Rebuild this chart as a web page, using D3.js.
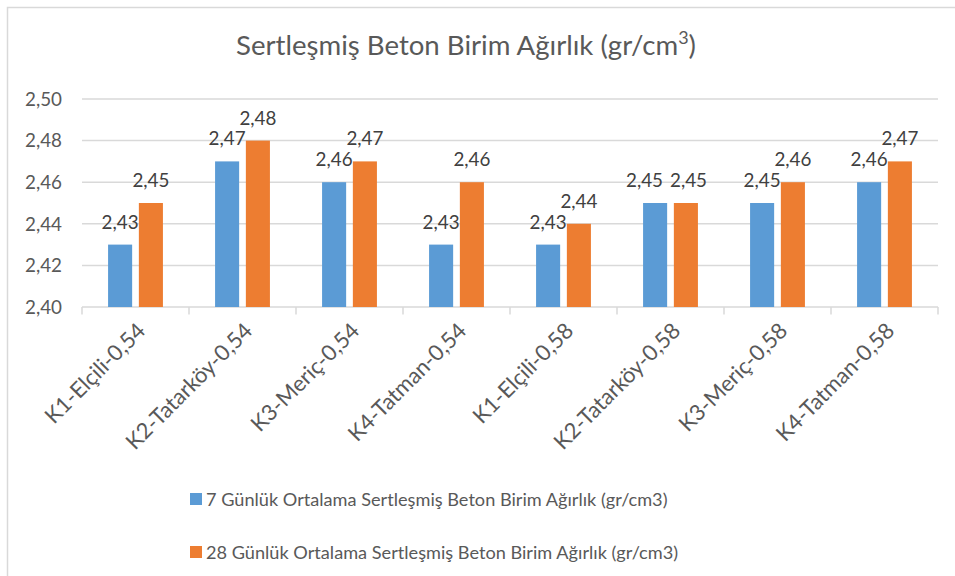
<!DOCTYPE html>
<html>
<head>
<meta charset="utf-8">
<script src="https://cdn.jsdelivr.net/npm/d3@7"></script>
<style>
  html, body { margin: 0; padding: 0; background: #fff; }
  svg { display: block; }
  text { font-family: Lato, "Open Sans", sans-serif; fill: #595959; }
</style>
</head>
<body>
<svg id="chart" width="955" height="576"></svg>
<script>
const categories = ["K1-Elçili-0,54", "K2-Tatarköy-0,54", "K3-Meriç-0,54", "K4-Tatman-0,54",
                    "K1-Elçili-0,58", "K2-Tatarköy-0,58", "K3-Meriç-0,58", "K4-Tatman-0,58"];
const seriesNames = ["7 Günlük Ortalama Sertleşmiş Beton Birim Ağırlık (gr/cm3)",
                     "28 Günlük Ortalama Sertleşmiş Beton Birim Ağırlık (gr/cm3)"];
const values7 = [2.43, 2.47, 2.46, 2.43, 2.43, 2.45, 2.45, 2.46];
const values28 = [2.45, 2.48, 2.47, 2.46, 2.44, 2.45, 2.46, 2.47];
const yTicks = [2.40, 2.42, 2.44, 2.46, 2.48, 2.50];
const colors = ["#5b9bd5", "#ed7d31"];

const svg = d3.select("#chart");
const fmt = v => d3.format(".2f")(v).replace(".", ",");

function fit(sel, target, base) {
  sel.style("font-size", base + "px");
  const w = sel.node().getComputedTextLength();
  const s = base * target / w;
  sel.style("font-size", s + "px");
  return s;
}

// chart border
svg.append("rect").attr("x", 7.5).attr("y", 7.5).attr("width", 1000).attr("height", 1000)
  .attr("fill", "none").attr("stroke", "#d9d9d9").attr("stroke-width", 1.5);

const x0 = d3.scaleBand().domain(categories).range([82, 938]).paddingInner(0).paddingOuter(0);
const x1 = d3.scaleBand().domain([0, 1]).range([0, x0.bandwidth()]).paddingInner(0.218).paddingOuter(0.847);
const y = d3.scaleLinear().domain([2.40, 2.50]).range([307, 99]);

// gridlines
svg.append("g").selectAll("line").data(yTicks.slice(1)).join("line")
  .attr("x1", 82).attr("x2", 938)
  .attr("y1", d => y(d)).attr("y2", d => y(d))
  .attr("stroke", "#d9d9d9").attr("stroke-width", 1.5);

// y tick labels
const yl = svg.append("g").selectAll("text").data(yTicks).join("text")
  .attr("x", 62).attr("y", d => y(d)).attr("dy", "0.36em")
  .attr("text-anchor", "end").text(d => fmt(d));
const tickSize = fit(d3.select(yl.nodes()[5]), 37, 18);
yl.style("font-size", tickSize + "px");

// x axis
const xAxis = d3.axisBottom(x0).tickSize(0).tickFormat("");
const gx = svg.append("g").attr("transform", "translate(0,307)").call(xAxis);
gx.select(".domain").remove();
svg.append("line").attr("x1", 82).attr("x2", 938).attr("y1", 307).attr("y2", 307)
  .attr("stroke", "#d9d9d9").attr("stroke-width", 1.5);
const boundaries = categories.map(c => x0(c)).concat([x0(categories[categories.length - 1]) + x0.bandwidth()]);
svg.append("g").selectAll("line").data(boundaries).join("line")
  .attr("x1", d => d).attr("x2", d => d).attr("y1", 307).attr("y2", 314.5)
  .attr("stroke", "#d9d9d9").attr("stroke-width", 1.5);

// bars
const series = [values7, values28];
const groups = svg.append("g").selectAll("g").data(series).join("g").attr("fill", (d, i) => colors[i]);
groups.each(function (vals, si) {
  d3.select(this).selectAll("rect").data(vals).join("rect")
    .attr("x", (d, i) => x0(categories[i]) + x1(si))
    .attr("width", x1.bandwidth())
    .attr("y", d => y(d))
    .attr("height", d => y(2.40) - y(d));
});

// data labels
const labelSel = [];
groups.each(function (vals, si) {
  labelSel[si] = d3.select(this).selectAll("text").data(vals).join("text")
    .attr("x", (d, i) => x0(categories[i]) + x1(si) + x1.bandwidth() / 2)
    .attr("y", d => y(d) - 16)
    .attr("text-anchor", "middle")
    .style("font-size", tickSize + "px")
    .style("fill", "#404040")
    .text(d => fmt(d));
});
// simple collision avoidance for labels at the same height
categories.forEach((c, i) => {
  const a = labelSel[0].nodes()[i], b = labelSel[1].nodes()[i];
  if (Math.abs(values7[i] - values28[i]) < 1e-9) {
    const ba = a.getBBox(), bb = b.getBBox();
    const gap = 7;
    const overlap = (ba.x + ba.width + gap) - bb.x;
    if (overlap > 0) {
      d3.select(a).attr("x", +d3.select(a).attr("x") - overlap * 0.8);
      d3.select(b).attr("x", +d3.select(b).attr("x") + overlap * 0.2);
    }
  }
});

// x labels
const xl = svg.append("g").selectAll("text").data(categories).join("text")
  .attr("text-anchor", "end")
  .attr("transform", d => `translate(${x0(d) + x0.bandwidth() / 2},321) rotate(-45)`)
  .attr("dy", "0.72em")
  .text(d => d);
const xlSize = fit(d3.select(xl.nodes()[1]), 168, 18);
xl.style("font-size", xlSize + "px");

// title
const title = svg.append("text").attr("x", 466).attr("y", 55).attr("text-anchor", "middle");
title.append("tspan").text("Sertleşmiş Beton Birim Ağırlık (gr/cm");
title.append("tspan").attr("baseline-shift", "super").style("font-size", "0.65em").text("3");
title.append("tspan").text(")");
fit(title, 460, 26);

// legend
const legY = [499, 552];
const leg = svg.append("g").selectAll("g").data(seriesNames).join("g")
  .attr("transform", (d, i) => `translate(190,${legY[i]})`);
leg.append("rect").attr("x", 0).attr("y", -6).attr("width", 12).attr("height", 12)
  .attr("fill", (d, i) => colors[i]);
const legText = leg.append("text").attr("x", 16).attr("dy", "0.36em").text(d => d);
const legSize = fit(d3.select(legText.nodes()[0]), 462, 18);
legText.style("font-size", legSize + "px");
</script>
</body>
</html>
